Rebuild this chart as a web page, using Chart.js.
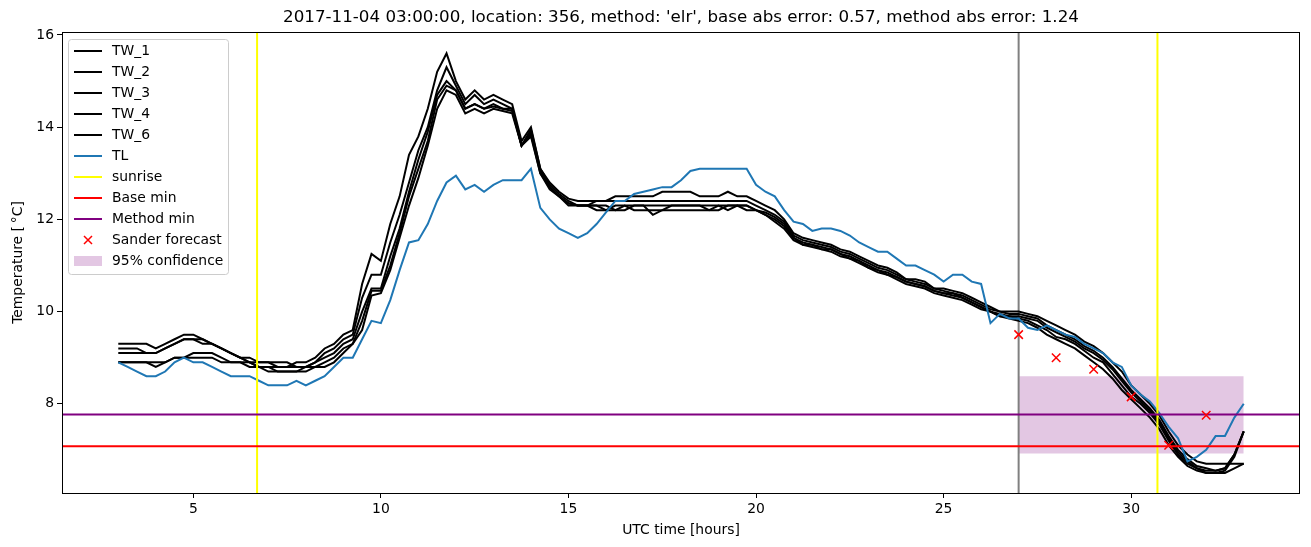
<!DOCTYPE html>
<html>
<head>
<meta charset="utf-8">
<script src="https://cdn.jsdelivr.net/npm/chart.js@4.4.1/dist/chart.umd.min.js"></script>
<style>
    html, body { margin: 0; padding: 0; background: #fff; }
    #chart { display: block; }
</style>
</head>
<body>
<canvas id="chart" width="1311" height="547"></canvas>
<script>
const TITLE = "2017-11-04 03:00:00, location: 356, method: 'elr', base abs error: 0.57, method abs error: 1.24";

// time axis, UTC hours
const hours = [
    3, 3.25, 3.5, 3.75, 4, 4.25, 4.5, 4.75,
    5, 5.25, 5.5, 5.75, 6, 6.25, 6.5, 6.75,
    7, 7.25, 7.5, 7.75, 8, 8.25, 8.5, 8.75,
    9, 9.25, 9.5, 9.75, 10, 10.25, 10.5, 10.75,
    11, 11.25, 11.5, 11.75, 12, 12.25, 12.5, 12.75,
    13, 13.25, 13.5, 13.75, 14, 14.25, 14.5, 14.75,
    15, 15.25, 15.5, 15.75, 16, 16.25, 16.5, 16.75,
    17, 17.25, 17.5, 17.75, 18, 18.25, 18.5, 18.75,
    19, 19.25, 19.5, 19.75, 20, 20.25, 20.5, 20.75,
    21, 21.25, 21.5, 21.75, 22, 22.25, 22.5, 22.75,
    23, 23.25, 23.5, 23.75, 24, 24.25, 24.5, 24.75,
    25, 25.25, 25.5, 25.75, 26, 26.25, 26.5, 26.75,
    27, 27.25, 27.5, 27.75, 28, 28.25, 28.5, 28.75,
    29, 29.25, 29.5, 29.75, 30, 30.25, 30.5, 30.75,
    31, 31.25, 31.5, 31.75, 32, 32.25, 32.5, 32.75,
    33
];

const tw1 = [
    9.3, 9.3, 9.3, 9.3, 9.2, 9.3, 9.4, 9.5,
    9.5, 9.4, 9.3, 9.2, 9.1, 9.0, 9.0, 8.9,
    8.9, 8.8, 8.8, 8.9, 8.9, 9.0, 9.2, 9.3,
    9.5, 9.6, 10.6, 11.25, 11.1, 11.9, 12.5, 13.4,
    13.8, 14.4, 15.2, 15.6, 15.0, 14.6, 14.8, 14.6,
    14.7, 14.6, 14.5, 13.7, 14.0, 13.1, 12.8, 12.6,
    12.45, 12.4, 12.4, 12.4, 12.4, 12.5, 12.5, 12.5,
    12.5, 12.5, 12.6, 12.6, 12.6, 12.6, 12.5, 12.5,
    12.5, 12.6, 12.5, 12.5, 12.4, 12.3, 12.2, 12.0,
    11.7, 11.6, 11.55, 11.5, 11.45, 11.35, 11.3, 11.2,
    11.1, 11.0, 10.95, 10.85, 10.7, 10.7, 10.65, 10.5,
    10.5, 10.45, 10.4, 10.3, 10.2, 10.1, 10.0, 10.0,
    10.0, 9.95, 9.9, 9.8, 9.7, 9.6, 9.5, 9.35,
    9.25, 9.1, 8.9, 8.7, 8.4, 8.2, 8.0, 7.75,
    7.4, 7.1, 6.9, 6.75, 6.7, 6.7, 6.7, 6.7,
    6.7
];

const tw2 = [
    9.2, 9.2, 9.2, 9.1, 9.1, 9.2, 9.3, 9.4,
    9.4, 9.4, 9.3, 9.2, 9.1, 9.0, 8.9, 8.9,
    8.9, 8.9, 8.9, 8.8, 8.8, 8.9, 9.1, 9.2,
    9.4, 9.5, 10.3, 10.8, 10.8, 11.5, 12.1, 12.8,
    13.5, 14.0, 14.8, 15.3, 14.9, 14.5, 14.7, 14.5,
    14.6, 14.5, 14.4, 13.6, 13.95, 13.1, 12.75, 12.55,
    12.4, 12.3, 12.3, 12.4, 12.4, 12.4, 12.4, 12.4,
    12.4, 12.4, 12.4, 12.4, 12.4, 12.4, 12.4, 12.4,
    12.4, 12.4, 12.4, 12.4, 12.3, 12.2, 12.1, 11.95,
    11.65, 11.55, 11.5, 11.45, 11.4, 11.3, 11.25, 11.15,
    11.05, 10.95, 10.9, 10.8, 10.7, 10.65, 10.6, 10.5,
    10.45, 10.4, 10.35, 10.25, 10.15, 10.05, 10.0, 9.95,
    9.95, 9.9, 9.85, 9.7, 9.6, 9.5, 9.4, 9.25,
    9.15, 9.0, 8.8, 8.55, 8.3, 8.1, 7.9, 7.65,
    7.3, 7.0, 6.8, 6.65, 6.6, 6.55, 6.6, 6.9,
    7.4
];

const tw3 = [
    9.1, 9.1, 9.1, 9.1, 9.1, 9.2, 9.3, 9.4,
    9.4, 9.3, 9.3, 9.2, 9.1, 9.0, 8.9, 8.8,
    8.8, 8.8, 8.8, 8.8, 8.8, 8.9, 9.0, 9.1,
    9.3, 9.4, 10.0, 10.5, 10.5, 11.2, 11.8, 12.6,
    13.3, 13.9, 14.7, 15.0, 14.8, 14.4, 14.5, 14.4,
    14.5, 14.4, 14.4, 13.6, 13.9, 13.05, 12.7, 12.5,
    12.35, 12.3, 12.3, 12.3, 12.2, 12.3, 12.3, 12.3,
    12.3, 12.3, 12.3, 12.3, 12.3, 12.3, 12.3, 12.3,
    12.3, 12.3, 12.3, 12.3, 12.2, 12.15, 12.05, 11.9,
    11.6, 11.5, 11.45, 11.4, 11.35, 11.25, 11.2, 11.1,
    11.0, 10.9, 10.85, 10.75, 10.65, 10.6, 10.55, 10.45,
    10.4, 10.4, 10.3, 10.2, 10.1, 10.0, 9.95, 9.9,
    9.9, 9.85, 9.8, 9.65, 9.55, 9.45, 9.35, 9.2,
    9.1, 8.95, 8.75, 8.5, 8.25, 8.05, 7.85, 7.6,
    7.25, 6.95, 6.75, 6.6, 6.55, 6.55, 6.6, 6.9,
    7.4
];

const tw4 = [
    8.9, 8.9, 8.9, 8.9, 8.8, 8.9, 9.0, 9.0,
    9.1, 9.1, 9.1, 9.0, 8.9, 8.9, 8.9, 8.8,
    8.8, 8.7, 8.7, 8.7, 8.8, 8.8, 8.9, 9.0,
    9.2, 9.3, 9.8, 10.45, 10.45, 11.0, 11.7, 12.5,
    13.1, 13.7, 14.6, 14.9, 14.8, 14.4, 14.5, 14.4,
    14.45, 14.4, 14.35, 13.6, 13.85, 13.0, 12.7, 12.5,
    12.35, 12.3, 12.3, 12.2, 12.2, 12.2, 12.3, 12.2,
    12.2, 12.2, 12.2, 12.3, 12.3, 12.3, 12.3, 12.2,
    12.3, 12.2, 12.3, 12.3, 12.2, 12.1, 12.0, 11.85,
    11.6, 11.45, 11.45, 11.35, 11.35, 11.25, 11.15, 11.1,
    10.95, 10.9, 10.8, 10.75, 10.65, 10.6, 10.55, 10.45,
    10.4, 10.35, 10.3, 10.2, 10.1, 10.0, 9.9, 9.9,
    9.85, 9.8, 9.7, 9.6, 9.45, 9.4, 9.3, 9.15,
    9.0, 8.9, 8.65, 8.4, 8.15, 8.0, 7.8, 7.55,
    7.2, 6.9, 6.7, 6.6, 6.5, 6.5, 6.55, 6.85,
    7.4
];

const tw6 = [
    8.9, 8.9, 8.9, 8.9, 8.9, 8.9, 9.0, 9.0,
    9.0, 9.0, 9.0, 8.9, 8.9, 8.9, 8.8, 8.8,
    8.7, 8.7, 8.7, 8.7, 8.7, 8.8, 8.8, 8.9,
    9.1, 9.3, 9.6, 10.35, 10.4, 10.9, 11.6, 12.3,
    12.9, 13.6, 14.4, 14.8, 14.7, 14.3, 14.4, 14.3,
    14.4, 14.35, 14.3, 13.6, 13.8, 13.0, 12.65, 12.5,
    12.3, 12.3, 12.3, 12.3, 12.3, 12.2, 12.2, 12.3,
    12.3, 12.1, 12.2, 12.2, 12.2, 12.2, 12.2, 12.2,
    12.2, 12.3, 12.3, 12.2, 12.2, 12.1, 11.95, 11.8,
    11.55, 11.45, 11.4, 11.35, 11.3, 11.2, 11.15, 11.05,
    10.95, 10.85, 10.8, 10.7, 10.6, 10.55, 10.5, 10.4,
    10.35, 10.3, 10.25, 10.15, 10.05, 10.0, 9.9, 9.85,
    9.8, 9.75, 9.65, 9.5, 9.4, 9.3, 9.2, 9.05,
    8.9, 8.75, 8.55, 8.3, 8.1, 7.9, 7.7, 7.45,
    7.1, 6.85, 6.65, 6.55, 6.5, 6.5, 6.5, 6.6,
    6.7
];

const tl = [
    8.9, 8.8, 8.7, 8.6, 8.6, 8.7, 8.9, 9.0,
    8.9, 8.9, 8.8, 8.7, 8.6, 8.6, 8.6, 8.5,
    8.4, 8.4, 8.4, 8.5, 8.4, 8.5, 8.6, 8.8,
    9.0, 9.0, 9.4, 9.8, 9.75, 10.25, 10.9, 11.5,
    11.55, 11.9, 12.4, 12.8, 12.95, 12.65, 12.75, 12.6,
    12.75, 12.85, 12.85, 12.85, 13.1, 12.25, 12.0, 11.8,
    11.7, 11.6, 11.7, 11.9, 12.15, 12.4, 12.4, 12.55,
    12.6, 12.65, 12.7, 12.7, 12.85, 13.05, 13.1, 13.1,
    13.1, 13.1, 13.1, 13.1, 12.75, 12.6, 12.5, 12.2,
    11.95, 11.9, 11.75, 11.8, 11.8, 11.75, 11.65, 11.5,
    11.4, 11.3, 11.3, 11.15, 11.0, 11.0, 10.9, 10.8,
    10.65, 10.8, 10.8, 10.65, 10.6, 9.75, 9.95, 9.85,
    9.85, 9.65, 9.6, 9.7, 9.6, 9.5, 9.45, 9.3,
    9.2, 9.1, 8.9, 8.8, 8.4, 8.2, 8.05, 7.8,
    7.5, 7.25, 6.75, 6.85, 7.0, 7.3, 7.3, 7.7,
    8.0
];

const sunriseHours = [6.7, 30.7];
const issueHour = 27;
const baseMin = 7.08;
const methodMin = 7.77;
const forecastHours = [27, 28, 29, 30, 31, 32];
const sanderForecast = [9.5, 9.0, 8.75, 8.15, 7.1, 7.75];
const confidenceHours = [27, 33];
const confidenceLow = 6.92;
const confidenceHigh = 8.6;

const xTicks = [5, 10, 15, 20, 25, 30];
const yTicks = [8, 10, 12, 14, 16];
const X_MIN = 1.5, X_MAX = 34.5, Y_MIN = 6.065, Y_MAX = 16.065;

const FONT = 'DejaVu Sans';
const FILL_COLOR = 'rgba(128, 0, 128, 0.22)';

function points(xs, ys) {
    return xs.map((x, i) => ({ x: x, y: ys[i] }));
}

function verticalLines(xs) {
    const pts = [];
    xs.forEach((x) => {
        pts.push({ x: x, y: Y_MIN }, { x: x, y: Y_MAX }, { x: x, y: null });
    });
    return pts;
}

function horizontalLine(y) {
    return [{ x: X_MIN, y: y }, { x: X_MAX, y: y }];
}

function lineSet(label, data, color, order, legend) {
    return {
        label: label,
        data: data,
        borderColor: color,
        backgroundColor: color,
        borderWidth: 2,
        pointRadius: 0,
        pointHoverRadius: 0,
        fill: false,
        tension: 0,
        order: order,
        legend: legend
    };
}

const datasets = [
    lineSet('TW_1', points(hours, tw1), '#000000', 10, 'line'),
    lineSet('TW_2', points(hours, tw2), '#000000', 9, 'line'),
    lineSet('TW_3', points(hours, tw3), '#000000', 8, 'line'),
    lineSet('TW_4', points(hours, tw4), '#000000', 7, 'line'),
    lineSet('TW_6', points(hours, tw6), '#000000', 6, 'line'),
    lineSet('TL', points(hours, tl), '#1f77b4', 5, 'line'),
    lineSet('sunrise', verticalLines(sunriseHours), '#ffff00', 4, 'line'),
    lineSet('Base min', horizontalLine(baseMin), '#ff0000', 3, 'line'),
    lineSet('Method min', horizontalLine(methodMin), '#800080', 2, 'line'),
    {
        label: 'Sander forecast',
        data: points(forecastHours, sanderForecast),
        showLine: false,
        pointStyle: 'crossRot',
        pointRadius: 6,
        pointHoverRadius: 6,
        pointBorderColor: '#ff0000',
        pointBorderWidth: 1.5,
        borderColor: '#ff0000',
        order: 1,
        legend: 'marker'
    },
    {
        label: '95% confidence',
        data: points(confidenceHours, [confidenceHigh, confidenceHigh]),
        borderColor: 'transparent',
        borderWidth: 0,
        backgroundColor: FILL_COLOR,
        pointRadius: 0,
        fill: { value: confidenceLow },
        order: 12,
        legend: 'patch'
    },
    lineSet('issue', verticalLines([issueHour]), '#808080', 11, null)
];

// matplotlib-like frame, title and legend box
const decorations = {
    id: 'decorations',
    afterDatasetsDraw(chart) {
        const a = chart.chartArea;
        const ctx = chart.ctx;
        ctx.save();
        ctx.strokeStyle = '#000';
        ctx.lineWidth = 1;
        ctx.strokeRect(Math.round(a.left) + 0.5, Math.round(a.top) + 0.5,
            Math.round(a.right - a.left) - 1, Math.round(a.bottom - a.top));
        ctx.restore();
    },
    afterDraw(chart) {
        const a = chart.chartArea;
        const ctx = chart.ctx;
        ctx.save();
        ctx.fillStyle = '#000';
        ctx.font = '16.7px "' + FONT + '"';
        ctx.textAlign = 'center';
        ctx.textBaseline = 'middle';
        ctx.fillText(TITLE, (a.left + a.right) / 2, 18);
        ctx.restore();
        drawLegend(chart);
    }
};

function drawLegend(chart) {
    const ctx = chart.ctx;
    const box = { x: 68.5, y: 39.5, w: 160, h: 235, r: 3 };
    ctx.save();
    ctx.beginPath();
    ctx.roundRect(box.x, box.y, box.w, box.h, box.r);
    ctx.fillStyle = 'rgba(255, 255, 255, 0.8)';
    ctx.fill();
    ctx.strokeStyle = '#cccccc';
    ctx.lineWidth = 1;
    ctx.stroke();

    const items = chart.data.datasets.filter((ds) => ds.legend);
    ctx.font = '13.9px "' + FONT + '"';
    ctx.textBaseline = 'middle';
    ctx.textAlign = 'left';
    items.forEach((ds, i) => {
        const cy = 51 + i * 21;
        if (ds.legend === 'line') {
            ctx.strokeStyle = ds.borderColor;
            ctx.lineWidth = 2;
            ctx.beginPath();
            ctx.moveTo(74, cy);
            ctx.lineTo(102, cy);
            ctx.stroke();
        } else if (ds.legend === 'marker') {
            ctx.strokeStyle = ds.pointBorderColor;
            ctx.lineWidth = 1.5;
            ctx.beginPath();
            ctx.moveTo(84, cy - 4);
            ctx.lineTo(92, cy + 4);
            ctx.moveTo(92, cy - 4);
            ctx.lineTo(84, cy + 4);
            ctx.stroke();
        } else if (ds.legend === 'patch') {
            ctx.fillStyle = ds.backgroundColor;
            ctx.fillRect(74, cy - 5, 28, 10);
        }
        ctx.fillStyle = '#000';
        ctx.fillText(ds.label, 112, cy);
    });
    ctx.restore();
}

document.addEventListener('DOMContentLoaded', function () {
    Chart.defaults.font.family = FONT;
    Chart.defaults.color = '#000';

    const tickFont = { family: FONT, size: 13.9 };

    new Chart(document.getElementById('chart'), {
        type: 'line',
        data: { datasets: datasets },
        options: {
            responsive: false,
            animation: false,
            devicePixelRatio: 1,
            layout: { padding: { top: 32, right: 11, left: 0, bottom: 0 } },
            plugins: {
                legend: { display: false },
                tooltip: { enabled: false },
                title: { display: false }
            },
            scales: {
                x: {
                    type: 'linear',
                    min: X_MIN,
                    max: X_MAX,
                    afterFit: (scale) => { scale.height = 54; },
                    afterBuildTicks: (scale) => { scale.ticks = xTicks.map((v) => ({ value: v })); },
                    grid: { drawOnChartArea: false, color: '#000', tickLength: 5, tickWidth: 1 },
                    border: { display: false },
                    ticks: { color: '#000', font: tickFont, padding: 3, maxRotation: 0, autoSkip: false },
                    title: {
                        display: true,
                        text: 'UTC time [hours]',
                        color: '#000',
                        font: tickFont,
                        padding: { top: 0, bottom: 8 }
                    }
                },
                y: {
                    type: 'linear',
                    min: Y_MIN,
                    max: Y_MAX,
                    afterFit: (scale) => { scale.width = 62; },
                    afterBuildTicks: (scale) => { scale.ticks = yTicks.map((v) => ({ value: v })); },
                    grid: { drawOnChartArea: false, color: '#000', tickLength: 5, tickWidth: 1 },
                    border: { display: false },
                    ticks: { color: '#000', font: tickFont, padding: 3 },
                    title: {
                        display: true,
                        text: 'Temperature [\u2009\u00b0C]',
                        color: '#000',
                        font: tickFont,
                        padding: { top: 10, bottom: 0 }
                    }
                }
            }
        },
        plugins: [decorations]
    });
});
</script>
</body>
</html>
